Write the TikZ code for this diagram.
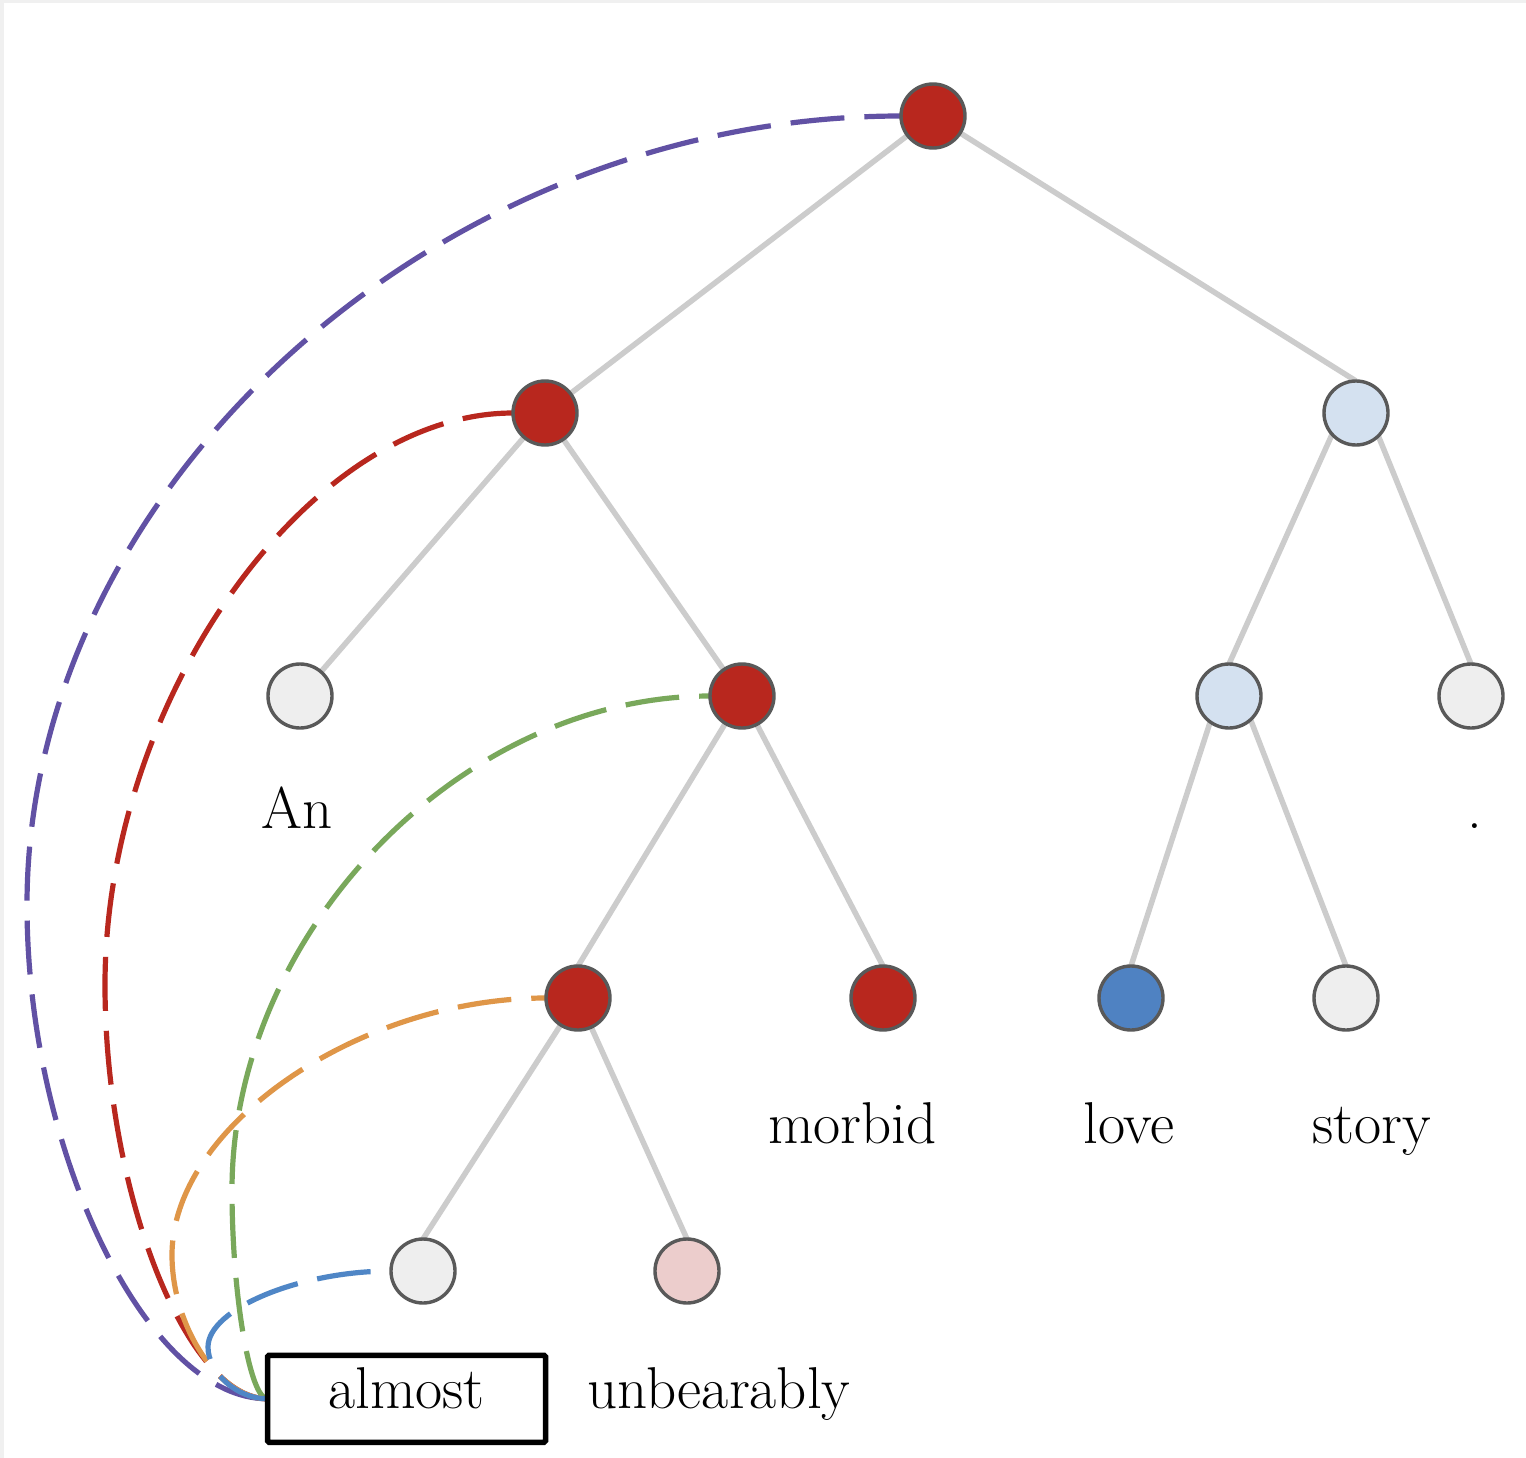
\documentclass[tikz,border=0pt]{standalone}
\definecolor{nred}{HTML}{B8271E}
\definecolor{nlblue}{HTML}{D4E1F0}
\definecolor{nblue}{HTML}{4F82C2}
\definecolor{npink}{HTML}{ECCDCC}
\definecolor{ngray}{HTML}{EEEEEE}
\definecolor{outl}{HTML}{595959}
\definecolor{edgegray}{HTML}{CCCCCC}
\definecolor{framegray}{HTML}{F0F0F0}
\definecolor{cpurple}{HTML}{6151A4}
\definecolor{cred}{HTML}{B8271E}
\definecolor{cgreen}{HTML}{79A85B}
\definecolor{corange}{HTML}{DF9648}
\definecolor{cblue}{HTML}{4F86C6}
\pgfdeclarelayer{back}
\pgfdeclarelayer{edges}
\pgfdeclarelayer{curves}
\pgfsetlayers{back,edges,curves,main}
\begin{document}
\begin{tikzpicture}[x=1pt,y=-1pt,
  tn/.style={circle,minimum size=64pt,inner sep=0pt,outer sep=0pt,draw=outl,line width=3.4pt},
  treeedge/.style={draw=edgegray,line width=5.5pt},
  att/.style={line width=5.2pt,dash pattern=on 54pt off 20pt},
  lbl/.style={anchor=base,inner sep=0pt,font=\fontsize{59}{68}\selectfont},
  wordbox/.style={draw=black,line width=5.5pt,fill=white,rounded corners=1.5pt,
    minimum width=278pt,minimum height=87pt,inner sep=0pt,outer sep=0pt,
    anchor=base,text height=41pt,text depth=22.5pt,font=\fontsize{59}{68}\selectfont}
]
\useasboundingbox (0,0) rectangle (1526,1458);
\begin{pgfonlayer}{back}
\fill[framegray] (0,0) rectangle (1526,1458);
\fill[white] (4,3) rectangle (1526,1458);
\end{pgfonlayer}

% tree nodes
\node[tn,fill=nred]   (r) at (933,116) {};
\node[tn,fill=nred]   (a) at (545,413) {};
\node[tn,fill=nlblue] (b) at (1356,413) {};
\node[tn,fill=ngray]  (c) at (300,696) {};
\node[tn,fill=nred]   (d) at (742,696) {};
\node[tn,fill=nlblue] (e) at (1229,696) {};
\node[tn,fill=ngray]  (f) at (1471,696) {};
\node[tn,fill=nred]   (g) at (578,998) {};
\node[tn,fill=nred]   (h) at (883,998) {};
\node[tn,fill=nblue]  (i) at (1131,998) {};
\node[tn,fill=ngray]  (j) at (1346,998) {};
\node[tn,fill=ngray]  (k) at (423,1271) {};
\node[tn,fill=npink]  (l) at (687,1271) {};

% word labels
\node[lbl] (wan) at (297,828) {An};
\node[lbl] (wdot) at (1475,828) {.};
\node[lbl] (wmorbid) at (852.5,1143) {morbid};
\node[lbl] (wlove) at (1129,1143) {love};
\node[lbl] (wstory) at (1371.5,1143) {story};
\node[lbl] (wunb) at (719,1408) {unbearably};
\node[wordbox] (box) at (406.5,1408) {almost};

% tree edges
\begin{pgfonlayer}{edges}
\draw[treeedge] (r.center) -- (a.center);
\draw[treeedge] (r.center) -- (b.north);
\draw[treeedge] (a.center) -- (c.center);
\draw[treeedge] (a.center) -- (d.center);
\draw[treeedge] (b.north) -- (e.north);
\draw[treeedge] (b.north) -- (f.north);
\draw[treeedge] (d.center) -- (g.north);
\draw[treeedge] (d.center) -- (h.north);
\draw[treeedge] (e.north) -- (i.north);
\draw[treeedge] (e.north) -- (j.north);
\draw[treeedge] (g.center) -- (k.north);
\draw[treeedge] (g.center) -- (l.north);
\end{pgfonlayer}

% attention curves
\begin{pgfonlayer}{curves}
\coordinate (mp) at (27,905);
\coordinate (mr) at (105,985);
\coordinate (mg) at (232,1190);
\coordinate (mo) at (172,1255);
\coordinate (mb) at (208,1347);
\draw[att,draw=cpurple] (box.west) .. controls (147,1399) and (27,1152) .. (mp)
  .. controls (27,487) and (438,116) .. (r.west) -- (r.center);
\draw[att,draw=cred] (box.west) .. controls (186.5,1399) and (105,1192) .. (mr)
  .. controls (105,699) and (309,413) .. (a.west) -- (a.center);
\draw[att,draw=cgreen] (box.west) .. controls (249.75,1399) and (232,1294.5) .. (mg)
  .. controls (232,933) and (461,696) .. (d.west) -- (d.center);
\draw[att,draw=corange] (box.west) .. controls (219.75,1399) and (172,1327) .. (mo)
  .. controls (172,1126.5) and (359,998) .. (g.west) -- (g.center);
\draw[att,draw=cblue] (box.west) .. controls (237.75,1399) and (208,1373) .. (mb)
  .. controls (208,1309) and (299.5,1271) .. (k.west) -- (k.center);
\end{pgfonlayer}
\end{tikzpicture}
\end{document}
